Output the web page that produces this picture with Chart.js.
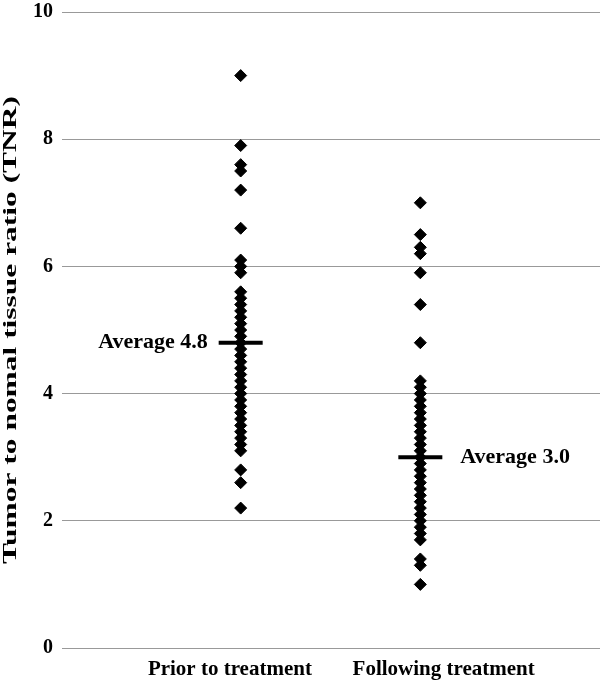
<!DOCTYPE html>
<html>
<head>
<meta charset="utf-8">
<script src="https://cdn.jsdelivr.net/npm/chart.js@4/dist/chart.umd.min.js"></script>
<style>
  body { margin: 0; background: #fff; }
  #wrap { width: 600px; height: 684px; position: relative; }
</style>
</head>
<body>
<div id="wrap"><canvas id="tnrChart"></canvas></div>
<script>
// Grupos y valores
const categorias = ["Prior to treatment", "Following treatment"];
const antes = [9.0, 7.9, 7.6, 7.5, 7.2, 6.6, 6.1, 6.0, 5.9,
    5.6, 5.5, 5.4, 5.3, 5.2, 5.1, 5.0, 4.9, 4.8, 4.7, 4.6, 4.5, 4.4, 4.3,
    4.2, 4.1, 4.0, 3.9, 3.8, 3.7, 3.6, 3.5, 3.4, 3.3, 3.2, 3.1,
    2.8, 2.6, 2.2];
const despues = [7.0, 6.5, 6.3, 6.2, 5.9, 5.4, 4.8, 4.2, 4.1,
    4.0, 3.9, 3.8, 3.7, 3.6, 3.5, 3.4, 3.3, 3.2, 3.1, 3.0, 2.9, 2.8, 2.7,
    2.6, 2.5, 2.4, 2.3, 2.2, 2.1, 2.0, 1.9, 1.8, 1.7,
    1.4, 1.3, 1.0];
const promedios = [4.8, 3.0];
const yTicks = [0, 2, 4, 6, 8, 10];
const tituloY = "Tumor to nomal tissue ratio (TNR)";

const fuente = "'Liberation Serif', 'Times New Roman', serif";

// Etiquetas "Average x.x" junto a cada linea de promedio
const etiquetasPromedio = {
    id: "etiquetasPromedio",
    afterDatasetsDraw(chart) {
        const { ctx, scales: { x, y } } = chart;
        ctx.save();
        ctx.font = "bold 22px " + fuente;
        ctx.fillStyle = "#000";
        ctx.textBaseline = "middle";
        promedios.forEach((p, i) => {
            const px = x.getPixelForValue(i + 1);
            const py = y.getPixelForValue(p);
            const texto = "Average " + p.toFixed(1);
            if (i === 0) {
                ctx.textAlign = "right";
                ctx.fillText(texto, px - 33, py);
            } else {
                ctx.textAlign = "left";
                ctx.fillText(texto, px + 40, py);
            }
        });
        ctx.restore();
    }
};

// Titulo del eje Y (estirado a lo largo como en el original)
const tituloEjeY = {
    id: "tituloEjeY",
    afterDraw(chart) {
        const { ctx, chartArea } = chart;
        ctx.save();
        ctx.font = "bold 19px " + fuente;
        ctx.fillStyle = "#000";
        ctx.textAlign = "center";
        ctx.textBaseline = "middle";
        const ancho = ctx.measureText(tituloY).width;
        ctx.translate(11, (chartArea.top + chartArea.bottom) / 2);
        ctx.rotate(-Math.PI / 2);
        ctx.scale(468 / ancho, 1);
        ctx.fillText(tituloY, 0, 0);
        ctx.restore();
    }
};

const ctx = document.getElementById("tnrChart").getContext("2d");

new Chart(ctx, {
    type: "scatter",
    data: {
        datasets: [
            {
                data: antes.map(v => ({ x: 1, y: v })),
                pointStyle: "rectRot",
                pointRadius: 6,
                backgroundColor: "#000",
                borderColor: "#000",
                borderWidth: 1
            },
            {
                data: despues.map(v => ({ x: 2, y: v })),
                pointStyle: "rectRot",
                pointRadius: 6,
                backgroundColor: "#000",
                borderColor: "#000",
                borderWidth: 1
            },
            {
                data: promedios.map((v, i) => ({ x: i + 1, y: v })),
                pointStyle: "line",
                pointRadius: 22,
                borderColor: "#000",
                borderWidth: 4
            }
        ]
    },
    options: {
        responsive: true,
        maintainAspectRatio: false,
        animation: false,
        layout: {
            autoPadding: false,
            padding: { top: 12, right: 0, left: 0, bottom: 0 }
        },
        scales: {
            x: {
                type: "linear",
                min: 0.05,
                max: 3,
                grid: { display: false },
                border: { display: false },
                afterBuildTicks: (axis) => {
                    // posiciones de las etiquetas de categoria como en el original
                    axis.ticks = [{ value: 0.94 }, { value: 2.13 }];
                },
                afterFit: (axis) => {
                    axis.height = 36;
                    axis.paddingLeft = 0;
                    axis.paddingRight = 0;
                },
                ticks: {
                    padding: 1,
                    maxRotation: 0,
                    autoSkip: false,
                    color: "#000",
                    font: { family: fuente, size: 21, weight: "bold" },
                    callback: (value, index) => categorias[index]
                }
            },
            y: {
                min: 0,
                max: 10,
                afterBuildTicks: (axis) => {
                    axis.ticks = yTicks.map(v => ({ value: v }));
                },
                afterFit: (axis) => {
                    axis.width = 70;
                    axis.paddingTop = 0;
                    axis.paddingBottom = 0;
                },
                grid: {
                    color: "#999",
                    lineWidth: 1,
                    tickLength: 8,
                    drawTicks: true
                },
                border: { display: false },
                ticks: {
                    padding: 9,
                    color: "#000",
                    font: { family: fuente, size: 20, weight: "bold" }
                }
            }
        },
        plugins: {
            legend: { display: false },
            tooltip: { enabled: false }
        }
    },
    plugins: [etiquetasPromedio, tituloEjeY]
});
</script>
</body>
</html>
